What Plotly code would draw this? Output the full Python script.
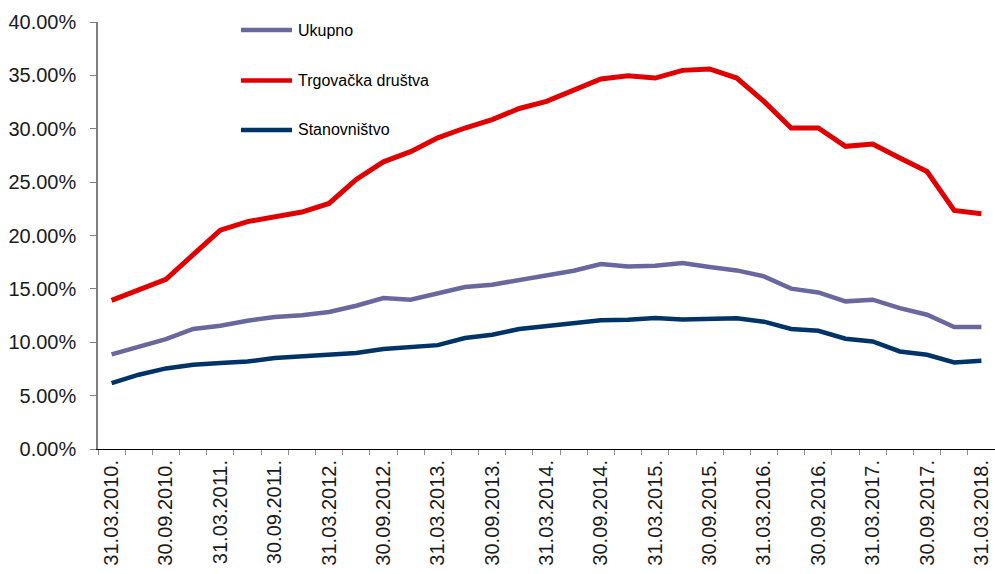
import plotly.graph_objects as go

# Quarter-end reporting dates
dates = [
    "31.03.2010.", "30.06.2010.", "30.09.2010.", "31.12.2010.",
    "31.03.2011.", "30.06.2011.", "30.09.2011.", "31.12.2011.",
    "31.03.2012.", "30.06.2012.", "30.09.2012.", "31.12.2012.",
    "31.03.2013.", "30.06.2013.", "30.09.2013.", "31.12.2013.",
    "31.03.2014.", "30.06.2014.", "30.09.2014.", "31.12.2014.",
    "31.03.2015.", "30.06.2015.", "30.09.2015.", "31.12.2015.",
    "31.03.2016.", "30.06.2016.", "30.09.2016.", "31.12.2016.",
    "31.03.2017.", "30.06.2017.", "30.09.2017.", "31.12.2017.",
    "31.03.2018.",
]

# Shares in percent
ukupno = [
    8.86, 9.55, 10.30, 11.24, 11.55, 12.02, 12.37, 12.52,
    12.83, 13.42, 14.14, 13.99, 14.56, 15.17, 15.39, 15.86,
    16.23, 16.70, 17.33, 17.10, 17.17, 17.42, 17.05, 16.73,
    16.17, 15.02, 14.67, 13.83, 13.99, 13.20, 12.58, 11.43,
    11.43,
]
trgovacka = [
    13.92, 14.90, 15.90, 18.20, 20.50, 21.30, 21.80, 22.20,
    23.00, 25.25, 26.90, 27.85, 29.15, 30.07, 30.85, 31.90,
    32.56, 33.66, 34.66, 34.97, 34.75, 35.47, 35.60, 34.75,
    32.56, 30.07, 30.07, 28.35, 28.57, 27.26, 26.00, 22.35,
    22.04,
]
stanovnistvo = [
    6.18, 6.96, 7.55, 7.90, 8.05, 8.20, 8.52, 8.65,
    8.77, 8.99, 9.37, 9.52, 9.73, 10.40, 10.70, 11.24,
    11.49, 11.74, 12.05, 12.11, 12.27, 12.14, 12.18, 12.24,
    11.93, 11.24, 11.08, 10.33, 10.08, 9.14, 8.83, 8.11,
    8.27,
]

names = ["Ukupno", "Trgovačka društva", "Stanovništvo"]
series = [ukupno, trgovacka, stanovnistvo]
colors = ["#68689E", "#E10000", "#003366"]
widths = [4.5, 5, 4.5]

# Label every second quarter (March and September)
tick_text = [d if i % 2 == 0 else "" for i, d in enumerate(dates)]

fig = go.Figure()
for name, vals, col, w in zip(names, series, colors, widths):
    fig.add_trace(go.Scatter(
        x=dates, y=vals, name=name, mode="lines",
        line=dict(color=col, width=w),
        showlegend=False,
    ))

# Custom legend: long line swatches with labels, stacked top-left
L0, L1 = 98, 995
T0, B0 = 22, 449


def px_x(p):
    return (p - L0) / (L1 - L0)


def px_y(p):
    return (B0 - p) / (B0 - T0)


legend_rows = [30, 80.5, 130]
for name, col, yy in zip(names, colors, legend_rows):
    fig.add_shape(
        type="line", xref="paper", yref="paper",
        x0=px_x(241), x1=px_x(292), y0=px_y(yy), y1=px_y(yy),
        line=dict(color=col, width=4.5),
    )
    fig.add_annotation(
        xref="paper", yref="paper", x=px_x(296), y=px_y(yy),
        text=name, showarrow=False, xanchor="left", yanchor="middle",
        font=dict(family="Liberation Sans, Arial", size=16, color="#000000"),
    )

fig.update_layout(
    width=995, height=574,
    margin=dict(l=L0, r=995 - L1, t=T0, b=574 - B0, pad=0),
    paper_bgcolor="white", plot_bgcolor="white",
    font=dict(family="Liberation Sans, Arial", color="#1a1a1a"),
    xaxis=dict(
        type="category",
        tickmode="array", tickvals=dates, ticktext=tick_text,
        tickson="boundaries",
        ticks="outside", ticklen=5, tickcolor="#8c8c8c", tickwidth=1,
        tickangle=-90, tickfont=dict(size=20, color="#1a1a1a"),
        ticklabelstandoff=2,
        showline=True, linecolor="#000000", linewidth=1,
        showgrid=False, zeroline=False,
        range=[-0.5, len(dates) - 0.5],
    ),
    yaxis=dict(
        range=[0, 40], dtick=5, tick0=0,
        tickformat=".2f", ticksuffix="%",
        ticks="outside", ticklen=6, tickcolor="#7f7f7f", tickwidth=1,
        ticklabelstandoff=10,
        tickfont=dict(size=20, color="#1a1a1a"),
        showline=True, linecolor="#7f7f7f", linewidth=1.5,
        showgrid=False, zeroline=False,
    ),
)

fig.write_html("out.html")
